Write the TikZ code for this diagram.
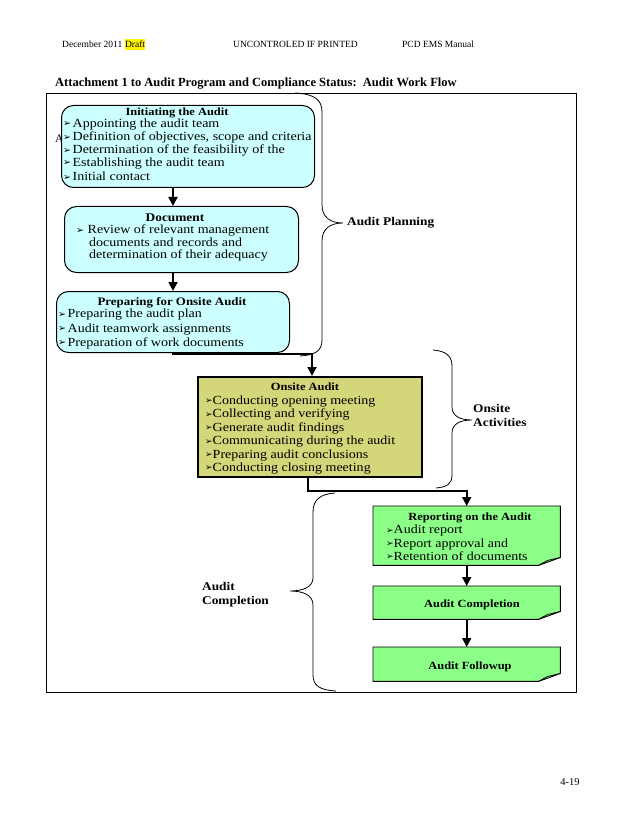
\documentclass[tikz,border=0pt]{standalone}
\usepackage{fontspec}
\setmainfont{Liberation Serif}
\newfontfamily\bxf[FakeStretch=1.13]{Liberation Serif}
\newfontfamily\djv{DejaVu Sans}
\usetikzlibrary{arrows.meta}
\definecolor{cyanf}{RGB}{204,255,255}
\definecolor{olivef}{RGB}{212,214,122}
\definecolor{greenf}{RGB}{140,255,136}
\definecolor{greend}{RGB}{96,196,96}
\newcommand\bul{{\djv\fontsize{9.5}{9}\selectfont\raisebox{0.3pt}{➢}}\hspace{1.5pt}}
\newcommand\bulx{{\djv\fontsize{9}{9}\selectfont\raisebox{0.3pt}{➢}}}
\newcommand\foldbox[1]{%
  \draw[line width=0.9pt, fill=greenf] (#1.north west) -- (#1.north east) -- ([yshift=8pt]#1.south east) -- ([xshift=-22pt]#1.south east) -- (#1.south west) -- cycle;
  \draw[line width=0.6pt, fill=greend] ([xshift=-22pt]#1.south east) -- ([xshift=-13pt,yshift=5pt]#1.south east) -- ([yshift=8pt]#1.south east) -- cycle;}
\begin{document}
\begin{tikzpicture}[x=1pt,y=-1pt,
  hdr/.style={inner sep=0pt, anchor=base west, font=\fontsize{9.5}{11}\selectfont},
  tx/.style={inner sep=0pt, anchor=west, text height=8pt, text depth=2pt, font=\bxf\fontsize{12.4}{13}\selectfont},
  tt/.style={inner sep=0pt, text height=7.5pt, text depth=1pt, font=\bxf\bfseries\fontsize{11}{13}\selectfont},
  lbl/.style={inner sep=0pt, align=left, font=\bxf\bfseries\fontsize{11.8}{14}\selectfont},
  cbox/.style={draw=black, line width=1pt, fill=cyanf, rounded corners=12pt, inner sep=0pt, anchor=north west},
  obox/.style={draw=black, line width=1.5pt, fill=olivef, inner sep=0pt, anchor=north west},
  gbox/.style={inner sep=0pt, anchor=north west},
  arr/.style={line width=1.8pt, -{Triangle[width=9pt,length=9pt]}},
  brace/.style={line width=0.8pt}]
\useasboundingbox (0,0) rectangle (638,826);
\fill[white] (0,0) rectangle (638,826);

% header
\node[hdr] (h1) at (62,48) {December 2011};
\node[hdr, fill=yellow, text height=8.5pt, text depth=2pt] (h2) at ([xshift=2.4pt]h1.base east) {Draft};
\node[hdr] (h3) at (233,48) {UNCONTROLED IF PRINTED};
\node[hdr] (h4) at (402,48) {PCD EMS Manual};
\node[inner sep=0pt, anchor=base west, font=\bfseries\fontsize{12.5}{14}\selectfont] (title) at (55,87) {Attachment 1 to Audit Program and Compliance Status:\ \ Audit Work Flow};
\node[inner sep=0pt, anchor=base, font=\fontsize{10.5}{12}\selectfont] (pg) at (570,785) {4-19};

% frame
\draw[line width=0.8pt] (46,93) rectangle (576,692);

% braces
\draw[brace] (295,93) .. controls (315,94) and (322,100) .. (322,112) -- (322,205) .. controls (322,217) and (330,223) .. (343,223) .. controls (330,223) and (322,229) .. (322,241) -- (322,340) .. controls (322,351) and (315,355) .. (300,356);
\draw[brace] (433,350) .. controls (446,351) and (452,356) .. (452,366) -- (452,407) .. controls (452,416) and (460,420) .. (472,420) .. controls (460,420) and (452,424) .. (452,433) -- (452,475) .. controls (452,484) and (447,487) .. (436,488);
\draw[brace] (335,493) .. controls (320,494) and (313,500) .. (313,512) -- (313,578) .. controls (313,587) and (303,591) .. (290,591) .. controls (303,591) and (313,595) .. (313,605) -- (313,675) .. controls (313,686) and (320,690) .. (336,691);

\node[lbl, anchor=west] (lp) at (347,223) {Audit Planning};
\node[lbl, anchor=west] (lo) at (473,415) {Onsite\\Activities};
\node[lbl, anchor=west] (lc) at (202,595) {Audit\\Completion};

% hidden letter behind first box
\node[inner sep=0pt, anchor=west, font=\fontsize{11.5}{12}\selectfont] (ha) at (55,139) {A};

% Initiating
\node[cbox, minimum width=253pt, minimum height=82pt] (init) at (61,105) {};
\node[tt] (it) at (177,112) {Initiating the Audit};
\node[tx] (i1) at (63,124.3) {\bul Appointing the audit team};
\node[tx] (i2) at (63,137.4) {\bul Definition of objectives, scope and criteria};
\node[tx] (i3) at (63,151) {\bul Determination of the feasibility of the};
\node[tx] (i4) at (63,163.2) {\bul Establishing the audit team};
\node[tx] (i5) at (63,177.5) {\bul Initial contact};

% Document
\node[cbox, minimum width=234pt, minimum height=66pt] (doc) at (64,206) {};
\node[tt, font=\bxf\bfseries\fontsize{11.8}{13}\selectfont] (dt) at (175,218) {Document};
\node[tx] (d1) at (76,230.5) {\bul\hspace{2pt}Review of relevant management};
\node[tx] (d2) at (89,243) {documents and records and};
\node[tx] (d3) at (89,255.5) {determination of their adequacy};

% Preparing
\node[cbox, minimum width=233pt, minimum height=61pt] (prep) at (56,291) {};
\node[tt, font=\bxf\bfseries\fontsize{11.4}{13}\selectfont] (pt) at (172,302) {Preparing for Onsite Audit};
\node[tx] (p1) at (58,314.5) {\bul Preparing the audit plan};
\node[tx] (p2) at (58,329) {\bul Audit teamwork assignments};
\node[tx] (p3) at (58,343) {\bul Preparation of work documents};

% Onsite
\node[obox, minimum width=224pt, minimum height=100pt] (onsite) at (197,376) {};
\node[tt] (ot) at (305,387) {Onsite Audit};
\node[tx] (o1) at (205,401) {\bulx Conducting opening meeting};
\node[tx] (o2) at (205,414.5) {\bulx Collecting and verifying};
\node[tx] (o3) at (205,428) {\bulx Generate audit findings};
\node[tx] (o4) at (205,441.5) {\bulx Communicating during the audit};
\node[tx] (o5) at (205,455) {\bulx Preparing audit conclusions};
\node[tx] (o6) at (205,468) {\bulx Conducting closing meeting};

% green boxes
\node[gbox, minimum width=187pt, minimum height=59pt] (report) at (373,506) {};
\foldbox{report}
\node[tt] (rt) at (470,517) {Reporting on the Audit};
\node[tx] (r1) at (386,530.5) {\bulx Audit report};
\node[tx] (r2) at (386,544) {\bulx Report approval and};
\node[tx] (r3) at (386,557) {\bulx Retention of documents};

\node[gbox, minimum width=187pt, minimum height=33pt] (comp) at (373,586) {};
\foldbox{comp}
\node[tt] (ct) at (472,604) {Audit Completion};

\node[gbox, minimum width=187pt, minimum height=34pt] (follow) at (373,647) {};
\foldbox{follow}
\node[tt] (ft) at (470,666) {Audit Followup};

% connectors
\coordinate (c1) at (312,354);
\coordinate (c2) at (308,491);
\draw[arr] (init.south -| prep.north) -- (doc.north -| prep.north);
\draw[arr] (doc.south -| prep.north) -- (prep.north);
\draw[arr] (prep.south) |- (c1) -- (c1 |- onsite.north);
\draw[arr] (c2 |- onsite.south) -- (c2) -| (report.north);
\draw[arr] (report.south) -- (comp.north);
\draw[arr] (comp.south) -- (follow.north);
\end{tikzpicture}
\end{document}
